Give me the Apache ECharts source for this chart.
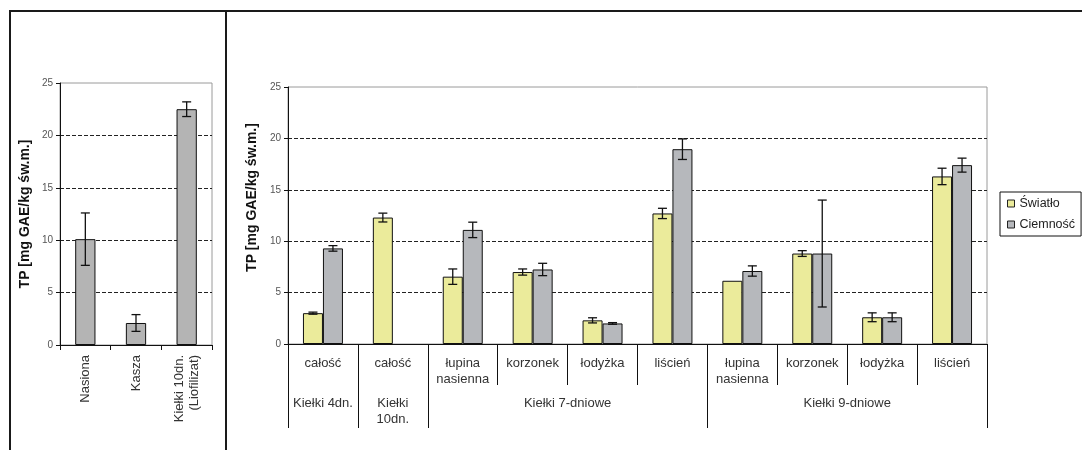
<!DOCTYPE html>
<html>
<head>
<meta charset="utf-8">
<script src="https://cdn.jsdelivr.net/npm/echarts@6/dist/echarts.min.js"></script>
<style>
  html, body { margin: 0; padding: 0; background: #fff; }
  #wrap { position: relative; width: 1082px; height: 450px; overflow: hidden; }
  .frame-top { position: absolute; left: 9px; top: 10px; width: 1073px; height: 2px; background: #1a1a1a; }
  .frame-left { position: absolute; left: 9px; top: 10px; width: 2px; height: 440px; background: #1a1a1a; }
  .frame-mid { position: absolute; left: 225px; top: 10px; width: 2px; height: 440px; background: #1a1a1a; }
  #chart { position: absolute; left: 0; top: 0; width: 1082px; height: 450px; }
</style>
</head>
<body>
<div id="wrap">
  <div class="frame-top"></div>
  <div class="frame-left"></div>
  <div class="frame-mid"></div>
  <div id="chart"></div>
</div>
<script>
// Left panel: seeds, groats, freeze-dried sprouts
const leftCategories = ['Nasiona', 'Kasza', 'Kiełki 10dn.\n(Liofilizat)'];
const leftValues = [10.1, 2.1, 22.5];
const leftErrors = [2.5, 0.8, 0.7];

// Right panel: sprout parts grown in light / darkness
const categories = ['całość', 'całość', 'łupina\nnasienna', 'korzonek', 'łodyżka', 'liścień',
                    'łupina\nnasienna', 'korzonek', 'łodyżka', 'liścień'];
const groupNames = ['Kiełki 4dn.', 'Kiełki\n10dn.', 'Kiełki 7-dniowe', 'Kiełki 9-dniowe'];
const groupBounds = [0, 1, 2, 6, 10];
const seriesNames = ['Światło', 'Ciemność'];
const lightValues = [3.0, 12.3, 6.55, 7.0, 2.3, 12.7, 6.15, 8.8, 2.6, 16.3];
const lightErrors = [0.1, 0.43, 0.75, 0.3, 0.25, 0.5, 0, 0.28, 0.43, 0.8];
const darkValues = [9.3, null, 11.1, 7.25, 2.0, 18.95, 7.1, 8.8, 2.6, 17.4];
const darkErrors = [0.27, null, 0.75, 0.6, 0.08, 1.0, 0.5, 5.2, 0.43, 0.68];

const yMin = 0, yMax = 25, yStep = 5;
const axisTitle = 'TP [mg GAE/kg św.m.]';

const FONT = '"Liberation Sans", Arial, sans-serif';
const YELLOW = '#ebeb9b';
const GREY = '#b6b8bc';
const GREY_LEFT = '#b4b4b4';

// Error whiskers, placed relative to the bar slot within the category band
function errorBars(barFrac, slot, slots) {
  return function (params, api) {
    const i = api.value(0), v = api.value(1), e = api.value(2);
    if (v == null || isNaN(v) || !e) return;
    const band = api.size([1, 0])[0];
    const bw = band * barFrac;
    const dx = (slot - (slots - 1) / 2) * bw;
    const top = api.coord([i, v + e]);
    const bot = api.coord([i, v - e]);
    const x = top[0] + dx;
    const cap = 4.5;
    const st = { stroke: '#111', lineWidth: 1.3 };
    return {
      type: 'group',
      children: [
        { type: 'line', shape: { x1: x, y1: top[1], x2: x, y2: bot[1] }, style: st },
        { type: 'line', shape: { x1: x - cap, y1: top[1], x2: x + cap, y2: top[1] }, style: st },
        { type: 'line', shape: { x1: x - cap, y1: bot[1], x2: x + cap, y2: bot[1] }, style: st }
      ]
    };
  };
}

function errData(vals, errs) {
  return vals.map((v, i) => [i, v, errs[i]]);
}

function yAxisFor(gridIndex, nameGap, namePadding) {
  return {
    type: 'value', gridIndex, min: yMin, max: yMax, interval: yStep,
    name: axisTitle, nameLocation: 'middle', nameGap,
    nameTextStyle: { fontFamily: FONT, fontSize: 14, fontWeight: 'bold', color: '#111', padding: namePadding },
    axisLine: { show: true, lineStyle: { color: '#111', width: 1 } },
    axisTick: { show: true, length: 4, lineStyle: { color: '#111' } },
    axisLabel: { fontFamily: FONT, fontSize: 10, color: '#555', margin: 7 },
    splitLine: { show: true, showMinLine: false, showMaxLine: false,
                 lineStyle: { color: '#222', type: [4, 2], width: 1 } }
  };
}

const chart = echarts.init(document.getElementById('chart'), null, { renderer: 'canvas' });

chart.setOption({
  animation: false,
  backgroundColor: 'transparent',
  textStyle: { fontFamily: FONT },
  grid: [
    { left: 60, right: 870, top: 83, bottom: 105, show: true, borderColor: '#9a9a9a', borderWidth: 1, containLabel: false },
    { left: 288, right: 95, top: 87, bottom: 106, show: true, borderColor: '#9a9a9a', borderWidth: 1, containLabel: false }
  ],
  legend: {
    data: seriesNames,
    orient: 'vertical',
    left: 1000, top: 192,
    icon: 'rect', itemWidth: 7, itemHeight: 7, itemGap: 8,
    padding: [5, 6, 5, 7],
    borderColor: '#111', borderWidth: 1,
    itemStyle: { borderWidth: 1, borderColor: '#222' },
    textStyle: { fontFamily: FONT, fontSize: 12.5, color: '#222' }
  },
  xAxis: [
    {
      type: 'category', gridIndex: 0, data: leftCategories,
      axisLine: { lineStyle: { color: '#111', width: 1 } },
      axisTick: { show: true, alignWithLabel: false, interval: 0, length: 5, lineStyle: { color: '#111' } },
      axisLabel: { rotate: 90, interval: 0, margin: 10, fontFamily: FONT, fontSize: 13, color: '#333', lineHeight: 15 }
    },
    {
      type: 'category', gridIndex: 1, data: categories,
      axisLine: { lineStyle: { color: '#111', width: 1 } },
      axisTick: { show: true, alignWithLabel: false, interval: 0, length: 41, lineStyle: { color: '#111' } },
      axisLabel: { interval: 0, margin: 11, fontFamily: FONT, fontSize: 13, color: '#333',
                   lineHeight: 16, verticalAlign: 'top' }
    },
    {
      type: 'value', gridIndex: 1, min: groupBounds[0], max: groupBounds[groupBounds.length - 1],
      position: 'bottom',
      axisLine: { show: false },
      splitLine: { show: false },
      axisTick: { show: true, customValues: groupBounds, length: 84, lineStyle: { color: '#111' } },
      axisLabel: {
        show: true, margin: 51, fontFamily: FONT, fontSize: 13, color: '#333', lineHeight: 16,
        verticalAlign: 'top',
        customValues: groupNames.map((_, k) => (groupBounds[k] + groupBounds[k + 1]) / 2),
        formatter: function (v) {
          for (let k = 0; k < groupNames.length; k++) {
            if (Math.abs((groupBounds[k] + groupBounds[k + 1]) / 2 - v) < 1e-6) return groupNames[k];
          }
          return '';
        }
      }
    }
  ],
  yAxis: [
    yAxisFor(0, 28, [0, 0, 0, 0]),
    yAxisFor(1, 23, [0, 0, 0, 36])
  ],
  series: [
    {
      type: 'bar', xAxisIndex: 0, yAxisIndex: 0, data: leftValues, barWidth: '40%',
      itemStyle: { color: GREY_LEFT, borderColor: '#111', borderWidth: 1 }
    },
    {
      type: 'custom', xAxisIndex: 0, yAxisIndex: 0, data: errData(leftValues, leftErrors),
      renderItem: errorBars(0.40, 0, 1), z: 10, encode: { x: 0, y: 1 }
    },
    {
      name: seriesNames[0], type: 'bar', xAxisIndex: 1, yAxisIndex: 1, data: lightValues,
      barWidth: '28.6%', barGap: '0%',
      itemStyle: { color: YELLOW, borderColor: '#111', borderWidth: 1 }
    },
    {
      name: seriesNames[1], type: 'bar', xAxisIndex: 1, yAxisIndex: 1, data: darkValues,
      barWidth: '28.6%', barGap: '0%',
      itemStyle: { color: GREY, borderColor: '#111', borderWidth: 1 }
    },
    {
      type: 'custom', xAxisIndex: 1, yAxisIndex: 1, data: errData(lightValues, lightErrors),
      renderItem: errorBars(0.286, 0, 2), z: 10, encode: { x: 0, y: 1 }
    },
    {
      type: 'custom', xAxisIndex: 1, yAxisIndex: 1, data: errData(darkValues, darkErrors),
      renderItem: errorBars(0.286, 1, 2), z: 10, encode: { x: 0, y: 1 }
    }
  ]
});
</script>
</body>
</html>
